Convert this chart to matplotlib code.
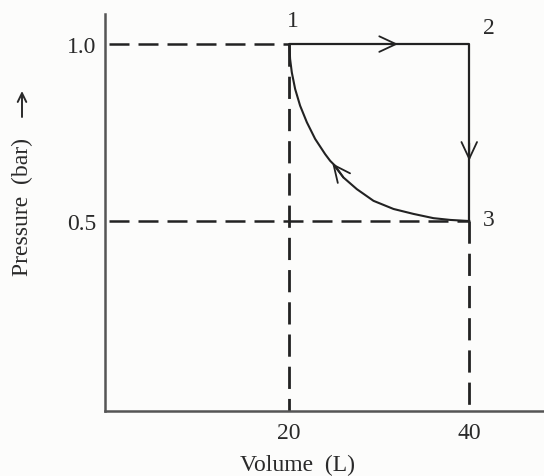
import numpy as np
import matplotlib.pyplot as plt

# cycle points (volume in L, pressure in bar)
V_pts = [20, 40, 40]
P_pts = [1.0, 1.0, 0.5]
pt_labels = ["1", "2", "3"]

# curved path 1 <- 3
V_curve = [20.03, 20.11, 20.3, 20.67, 21.22, 21.97, 22.89, 24.0, 24.56, 25.11,
           26.03, 27.52, 29.37, 31.59, 33.81, 36.03, 37.89, 39.92, 40.0]
P_curve = [1.0, 0.958, 0.920, 0.873, 0.826, 0.779, 0.732, 0.689, 0.670, 0.656,
           0.623, 0.590, 0.557, 0.534, 0.520, 0.508, 0.503, 0.5, 0.5]

x_ticks = [20, 40]
y_ticks = [0.5, 1.0]

ink = '#222222'
font = {'family': 'Liberation Serif', 'size': 17, 'color': '#2a2a2a'}

fig = plt.figure(figsize=(5.44, 4.77), dpi=100, facecolor='#fcfcfb')
ax = fig.add_axes([105 / 544, 1 - 412 / 477, 1 - 105 / 544, (412 - 15) / 477])
ax.set_facecolor('#fcfcfb')
ax.set_xlim(-0.44, 48.3)
ax.set_ylim(-0.037, 1.085)

for s in ['top', 'right']:
    ax.spines[s].set_visible(False)
for s in ['left', 'bottom']:
    ax.spines[s].set_color('#555555')
    ax.spines[s].set_linewidth(1.8)

ax.set_xticks(x_ticks)
ax.set_xticklabels([str(t) for t in x_ticks], fontdict=font)
ax.set_yticks(y_ticks)
ax.set_yticklabels(['%.1f' % t for t in y_ticks], fontdict=font)
ax.tick_params(length=0, pad=8)
ax.tick_params(axis='y', pad=6)

# dashed guide lines
dash = (0, (8, 3.6))
ax.plot([0, V_pts[0]], [P_pts[0], P_pts[0]], color=ink, lw=1.8, ls=dash)
ax.plot([0, V_pts[2]], [P_pts[2], P_pts[2]], color=ink, lw=1.8, ls=dash)
ax.plot([V_pts[0], V_pts[0]], [P_pts[0], -0.037], color=ink, lw=2.0, ls=dash)
ax.plot([V_pts[2], V_pts[2]], [P_pts[2], -0.037], color=ink, lw=2.0, ls=dash)

# cycle
ax.plot(V_pts, P_pts, color=ink, lw=1.6, solid_capstyle='butt')
ax.plot(V_curve, P_curve, color=ink, lw=1.5, solid_joinstyle='round')

# arrow heads
arw = dict(arrowstyle='->, head_length=0.6, head_width=0.28', color=ink, lw=1.3,
           mutation_scale=20, shrinkA=0, shrinkB=0)
ax.annotate('', xy=(32.1, 1.0), xytext=(30.5, 1.0), arrowprops=arw)
ax.annotate('', xy=(40, 0.67), xytext=(40, 0.72), arrowprops=arw)
ax.annotate('', xy=(24.8, 0.663), xytext=(26.03, 0.623), arrowprops=arw)

# point labels
offsets = [(3, 17), (14, 12), (14, 1)]
for v, p, lab, off in zip(V_pts, P_pts, pt_labels, offsets):
    ax.annotate(lab, xy=(v, p), xytext=off, textcoords='offset points',
                ha='center', va='center', **font)

fig.text(297 / 544, 1 - 465 / 477, 'Volume  (L)', ha='center', va='center', fontdict=font)
fig.text(22 / 544, 1 - 207 / 477, 'Pressure  (bar)', ha='center', va='center',
         rotation=90, fontdict=font)
# axis arrow next to the y label
fig_arw = dict(arrowstyle='->, head_length=0.45, head_width=0.22', color='#2a2a2a',
               lw=1.4, mutation_scale=14, shrinkA=0, shrinkB=0)
plt.annotate('', xy=(22, 477 - 92), xytext=(22, 477 - 118),
             xycoords='figure pixels', textcoords='figure pixels', arrowprops=fig_arw)

fig.savefig('out.png', dpi=100, facecolor=fig.get_facecolor())
